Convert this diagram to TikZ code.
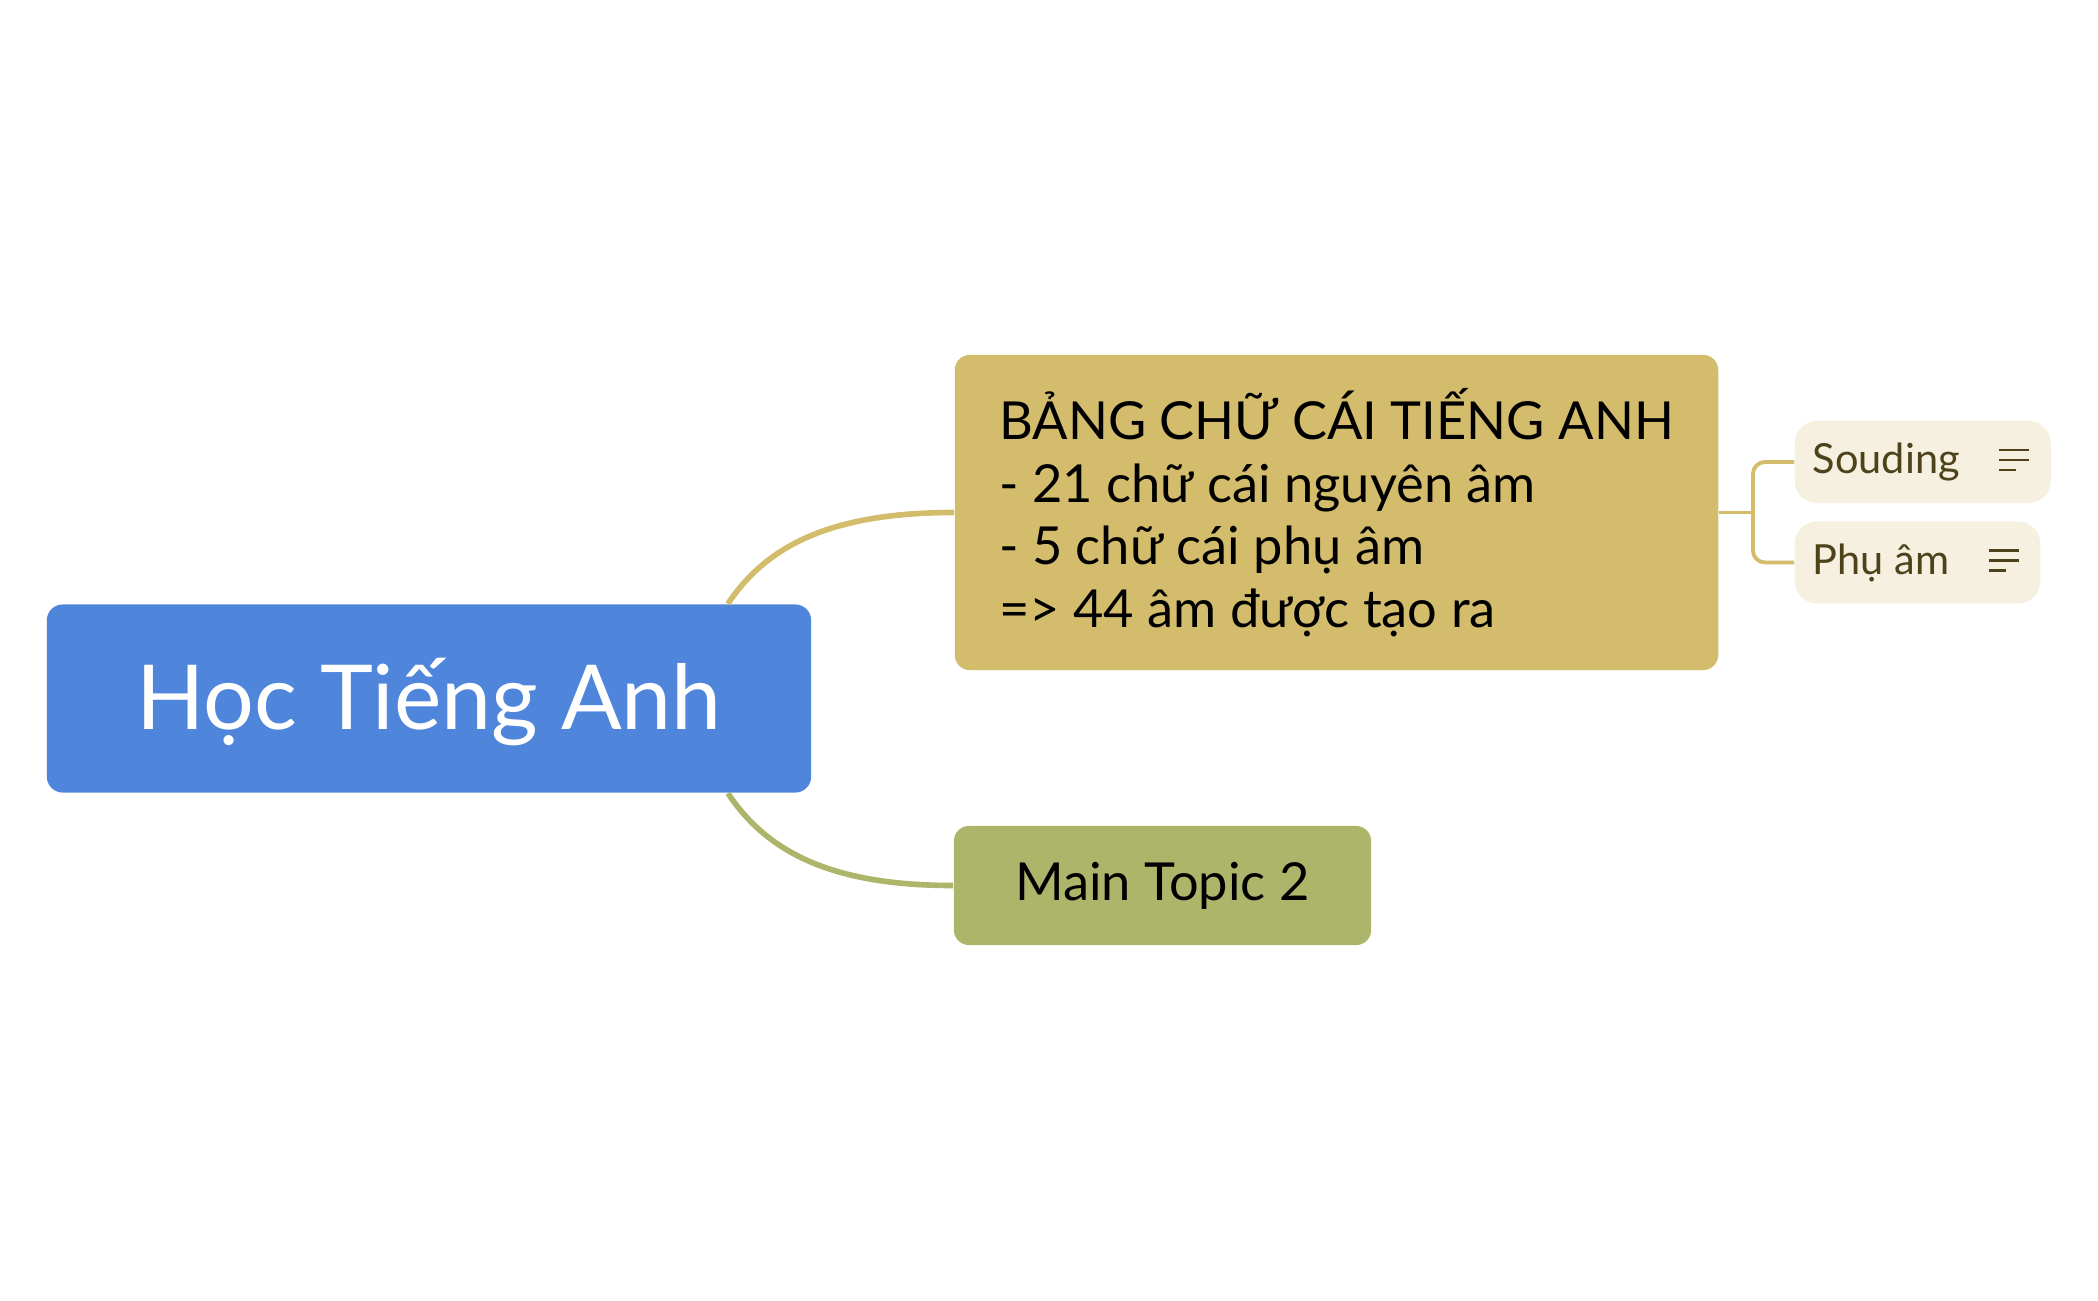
\documentclass[tikz,border=0pt]{standalone}
\usepackage{fontspec}
\setmainfont{Lato}
\definecolor{hocblue}{RGB}{79,134,219}
\definecolor{bangvang}{RGB}{212,188,109}
\definecolor{topicolive}{RGB}{173,181,106}
\definecolor{subfill}{RGB}{245,240,224}
\definecolor{subtext}{RGB}{77,66,26}

\begin{document}
\begin{tikzpicture}[x=0.01cm,y=-0.01cm]
  \tikzset{
    central/.style={fill=hocblue,text=white,rounded corners=0.16cm,
      minimum width=7.64cm,minimum height=1.88cm,
      text height=18.5pt,text depth=0.6pt,
      font=\fontsize{25.5}{30}\selectfont},
    maintopic/.style={rounded corners=0.15cm,align=left,
      font=\fontsize{14.9}{17.8}\selectfont},
    subtopic/.style={fill=subfill,text=subtext,rounded corners=0.22cm,
      inner xsep=0.18cm,minimum height=0.82cm,anchor=west,
      font=\fontsize{11.8}{14}\selectfont},
    branch/.style={line width=1.6pt},
    forkline/.style={draw=bangvang,line width=1.1pt},
    notelines/.style={draw=subtext,line width=0.8pt}
  }
  \useasboundingbox (0,0) rectangle (2098,1300);
  \node[central] (hoc) at (429,698.5) {Học Tiếng Anh};
  \node[maintopic,fill=bangvang,minimum width=7.63cm,minimum height=3.15cm]
    (bang) at (1336.5,512.5)
    {BẢNG CHỮ CÁI TIẾNG ANH\\- 21 chữ cái nguyên âm\\- 5 chữ cái phụ âm\\=> 44 âm được tạo ra};
  \node[maintopic,fill=topicolive,minimum width=4.17cm,minimum height=1.19cm]
    (topic2) at (1162.5,885.5) {Main Topic 2};
  \node[subtopic] (souding) at (1794,462) {Souding\kern0.73cm};
  \node[subtopic] (phuam) at (1794,562.5) {Phụ âm\kern0.73cm};
  \draw[branch,draw=bangvang] ([xshift=-0.84cm]hoc.north east)
    .. controls +(40,-60) and +(-120,0) .. (bang.west);
  \draw[branch,draw=topicolive] ([xshift=-0.84cm]hoc.south east)
    .. controls +(40,60) and +(-120,0) .. (topic2.west);
  \draw[forkline] (bang.east) -- ++(34,0) coordinate (fork);
  \draw[forkline,rounded corners=0.12cm] (souding.west) -| (fork) |- (phuam.west);
  \foreach \n in {souding,phuam} {
    \draw[notelines] ([xshift=-0.52cm,yshift=0.12cm]\n.east) -- ++(30,0);
    \draw[notelines] ([xshift=-0.52cm,yshift=0.02cm]\n.east) -- ++(30,0);
    \draw[notelines] ([xshift=-0.52cm,yshift=-0.08cm]\n.east) -- ++(17,0);
  }
\end{tikzpicture}
\end{document}
